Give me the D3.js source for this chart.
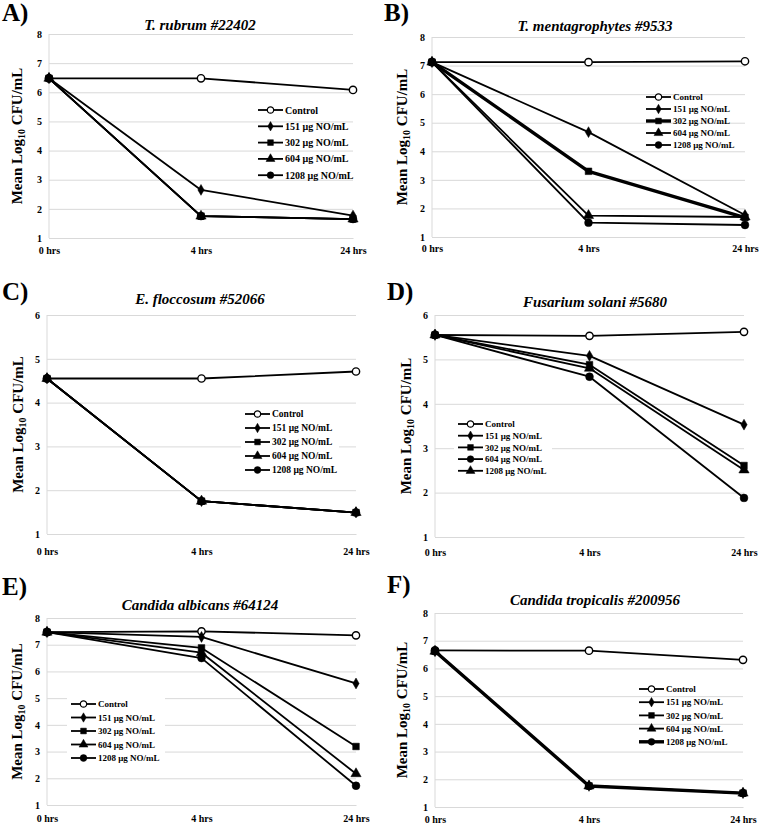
<!DOCTYPE html>
<html>
<head>
<meta charset="utf-8">
<script src="https://cdn.jsdelivr.net/npm/d3@7"></script>
<style>
  html, body { margin: 0; padding: 0; background: #fff; }
  svg { display: block; }
  text { font-family: "Liberation Serif", "Times New Roman", serif; font-weight: bold; fill: #000; }
</style>
</head>
<body>
<svg id="chart" width="760" height="828"></svg>
<script>
// ---------------- DATA ----------------
const timeLabels = ["0 hrs", "4 hrs", "24 hrs"];
const seriesNames = ["Control", "151 μg NO/mL", "302 μg NO/mL", "604 μg NO/mL", "1208 μg NO/mL"];
const panelLetters = ["A)", "B)", "C)", "D)", "E)", "F)"];
const panelTitles = ["T. rubrum #22402", "T. mentagrophytes #9533", "E. floccosum #52066",
                     "Fusarium solani #5680", "Candida albicans #64124", "Candida tropicalis #200956"];
const yTicks8 = [1, 2, 3, 4, 5, 6, 7, 8];
const yTicks6 = [1, 2, 3, 4, 5, 6];

// rows: Control, 151, 302, 604, 1208 ; columns: 0 hrs, 4 hrs, 24 hrs
const valuesA = [[6.48, 6.48, 6.08], [6.48, 2.65, 1.77], [6.48, 1.75, 1.65], [6.48, 1.75, 1.65], [6.48, 1.75, 1.65]];
const valuesB = [[7.12, 7.12, 7.15], [7.12, 4.67, 1.77], [7.12, 3.30, 1.68], [7.12, 1.75, 1.70], [7.12, 1.50, 1.42]];
const valuesC = [[4.55, 4.55, 4.71], [4.55, 1.75, 1.49], [4.55, 1.75, 1.49], [4.55, 1.75, 1.49], [4.55, 1.75, 1.49]];
const valuesD = [[5.55, 5.53, 5.62], [5.55, 5.08, 3.53], [5.55, 4.88, 2.61], [5.55, 4.61, 1.88], [5.55, 4.80, 2.51]];
const valuesE = [[7.47, 7.50, 7.35], [7.47, 7.29, 5.55], [7.47, 6.88, 3.19], [7.47, 6.70, 2.17], [7.47, 6.50, 1.72]];
const valuesF = [[6.65, 6.64, 6.31], [6.62, 1.76, 1.50], [6.62, 1.76, 1.50], [6.62, 1.76, 1.50], [6.62, 1.76, 1.50]];

// ---------------- LAYOUT ----------------
const markersStd = ["open", "diamond", "square", "triangle", "circle"];
const markersD   = ["open", "diamond", "square", "circle", "triangle"];

const panels = [
  { values: valuesA, ticks: yTicks8, markers: markersStd, thick: -1,
    x0: 49, x1: 353, yTop: 34, yBot: 238, xLabY: 254, titleX: 200, titleY: 30,
    letX: 2, letY: 21, ylabX: 17, legX: 258, legY: 110, legDy: 16.3, legFont: 10, legBg: false },
  { values: valuesB, ticks: yTicks8, markers: markersStd, thick: 2,
    x0: 432, x1: 745, yTop: 37, yBot: 237, xLabY: 252, titleX: 595, titleY: 31,
    letX: 384, letY: 21, ylabX: 402, legX: 646, legY: 97, legDy: 12, legFont: 9, legBg: false },
  { values: valuesC, ticks: yTicks6, markers: markersStd, thick: -1,
    x0: 47, x1: 356, yTop: 315, yBot: 534, xLabY: 555, titleX: 200, titleY: 304,
    letX: 2, letY: 300, ylabX: 18, legX: 245, legY: 414, legDy: 14, legFont: 9.5, legBg: true },
  { values: valuesD, ticks: yTicks6, markers: markersD, thick: -1,
    x0: 435, x1: 744, yTop: 315, yBot: 537, xLabY: 556, titleX: 595, titleY: 307,
    letX: 387, letY: 300, ylabX: 406, legX: 458, legY: 424, legDy: 11.7, legFont: 9, legBg: true },
  { values: valuesE, ticks: yTicks8, markers: markersStd, thick: -1,
    x0: 47, x1: 356, yTop: 618, yBot: 805, xLabY: 822, titleX: 200, titleY: 610,
    letX: 2, letY: 595, ylabX: 17, legX: 71, legY: 704, legDy: 13.5, legFont: 9, legBg: true },
  { values: valuesF, ticks: yTicks8, markers: markersStd, thick: 4,
    x0: 435, x1: 743, yTop: 613, yBot: 807, xLabY: 823, titleX: 595, titleY: 605,
    letX: 387, letY: 593, ylabX: 402, legX: 639, legY: 689, legDy: 13.2, legFont: 9, legBg: false }
];

const symbolMap = {
  open: d3.symbolCircle, circle: d3.symbolCircle, diamond: d3.symbolDiamond,
  square: d3.symbolSquare, triangle: d3.symbolTriangle
};
const symbolSize = { open: 42, circle: 48, diamond: 34, square: 44, triangle: 46 };

const svg = d3.select("#chart");

panels.forEach((p, pi) => {
  const g = svg.append("g");
  const x = d3.scalePoint().domain(timeLabels).range([p.x0, p.x1]).padding(0);
  const yMax = d3.max(p.ticks);
  const y = d3.scaleLinear().domain([1, yMax]).range([p.yBot, p.yTop]);

  // gridlines + y tick labels
  const yAxis = g.append("g")
    .attr("transform", `translate(${p.x0},0)`)
    .call(d3.axisLeft(y).tickValues(p.ticks).tickFormat(d3.format("d"))
      .tickSize(-(p.x1 - p.x0)).tickPadding(7));
  yAxis.select(".domain").remove();
  yAxis.selectAll(".tick line").attr("stroke", "#d9d9d9").attr("stroke-width", 1);
  yAxis.selectAll(".tick text").style("font-size", "10px").style("font-family", "Liberation Serif, serif")
    .style("font-weight", "bold");

  // left axis line
  g.append("line").attr("x1", p.x0).attr("x2", p.x0).attr("y1", p.yTop).attr("y2", p.yBot)
    .attr("stroke", "#d9d9d9").attr("stroke-width", 1);

  // x axis labels
  const xAxis = g.append("g")
    .attr("transform", `translate(0,${p.yBot})`)
    .call(d3.axisBottom(x).tickSize(0).tickPadding(p.xLabY - p.yBot - 7));
  xAxis.select(".domain").attr("stroke", "#d9d9d9");
  xAxis.selectAll(".tick text").style("font-size", "10px").style("font-family", "Liberation Serif, serif")
    .style("font-weight", "bold");

  // legend background (covers gridlines)
  if (p.legBg) {
    g.append("rect").attr("x", p.legX - 4).attr("y", p.legY - p.legDy / 2 - 2)
      .attr("width", 98).attr("height", p.legDy * 5 + 2).attr("fill", "#fff");
  }

  // series
  const line = d3.line().x((d, i) => x(timeLabels[i])).y(d => y(d));
  p.values.forEach((vals, si) => {
    const sw = si === p.thick ? 3.4 : 1.8;
    g.append("path").datum(vals).attr("d", line).attr("fill", "none")
      .attr("stroke", "#000").attr("stroke-width", sw).attr("stroke-linejoin", "round");
    const mk = p.markers[si];
    g.selectAll(null).data(vals).enter().append("path")
      .attr("transform", (d, i) => `translate(${x(timeLabels[i])},${y(d)})`)
      .attr("d", d3.symbol().type(symbolMap[mk]).size(symbolSize[mk]))
      .attr("fill", mk === "open" ? "#fff" : "#000")
      .attr("stroke", "#000").attr("stroke-width", mk === "open" ? 1.4 : 0.5);
  });

  // legend
  const leg = g.append("g");
  seriesNames.forEach((name, si) => {
    const ly = p.legY + si * p.legDy;
    const sw = si === p.thick ? 3.4 : 1.8;
    leg.append("line").attr("x1", p.legX).attr("x2", p.legX + 25).attr("y1", ly).attr("y2", ly)
      .attr("stroke", "#000").attr("stroke-width", sw);
    const mk = p.markers[si];
    leg.append("path").attr("transform", `translate(${p.legX + 12.5},${ly})`)
      .attr("d", d3.symbol().type(symbolMap[mk]).size(symbolSize[mk] * 0.75))
      .attr("fill", mk === "open" ? "#fff" : "#000")
      .attr("stroke", "#000").attr("stroke-width", mk === "open" ? 1.2 : 0.5);
    leg.append("text").attr("x", p.legX + 27).attr("y", ly).attr("dy", "0.35em")
      .style("font-size", p.legFont + "px").text(name);
  });

  // title
  g.append("text").attr("x", p.titleX).attr("y", p.titleY).attr("text-anchor", "middle")
    .style("font-size", "15px").style("font-style", "italic").text(panelTitles[pi]);

  // panel letter
  g.append("text").attr("x", p.letX).attr("y", p.letY).style("font-size", "25px").text(panelLetters[pi]);

  // y axis label
  const yl = g.append("text")
    .attr("transform", `translate(${p.ylabX},${(p.yTop + p.yBot) / 2}) rotate(-90)`)
    .attr("text-anchor", "middle").attr("dominant-baseline", "central")
    .style("font-size", "15px");
  yl.append("tspan").text("Mean Log");
  yl.append("tspan").attr("dy", "4").style("font-size", "10px").text("10");
  yl.append("tspan").attr("dy", "-4").text(" CFU/mL");
});
</script>
</body>
</html>
